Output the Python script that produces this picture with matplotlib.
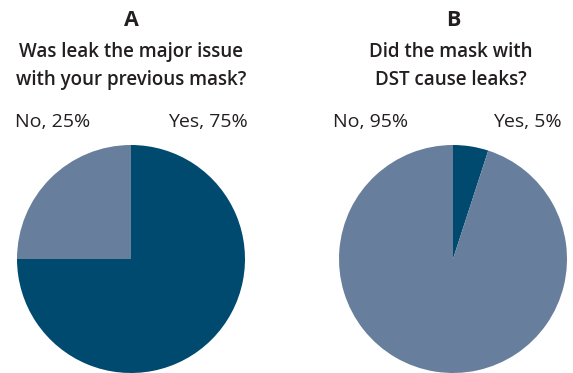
import matplotlib
matplotlib.use("Agg")
import matplotlib.pyplot as plt

# Data
panel_letters = ["A", "B"]
titles = ["Was leak the major issue\nwith your previous mask?",
          "Did the mask with\nDST cause leaks?"]
categories = ["Yes", "No"]
values_a = [75, 25]
values_b = [5, 95]

dark = "#004A70"
light = "#687E9D"
txt = "#231F20"

W, H = 573, 373
fig = plt.figure(figsize=(W / 100, H / 100), dpi=100)
plt.rcParams['font.family'] = ['Open Sans', 'DejaVu Sans']

def add_pie(cx, cy, r, vals):
    ax = fig.add_axes([(cx - r) / W, (H - cy - r) / H, 2 * r / W, 2 * r / H])
    ax.pie(vals, colors=[dark, light], startangle=90, counterclock=False,
           radius=1, wedgeprops=dict(linewidth=0))
    ax.set_xlim(-1, 1)
    ax.set_ylim(-1, 1)
    ax.set_aspect('auto')
    ax.axis('off')
    return ax

add_pie(131, 259, 114, values_a)
add_pie(453, 259, 114, values_b)

def ftext(x, y, s, **kw):
    fig.text(x / W, 1 - y / H, s, color=txt, **kw)

# Panel letters
ftext(131, 20, panel_letters[0], ha='center', va='center', fontsize=15.5, fontweight='bold')
ftext(453, 20, panel_letters[1], ha='center', va='center', fontsize=15.5, fontweight='bold')
# Titles
ftext(131, 66, titles[0], ha='center', va='center', fontsize=13.5, fontweight='semibold', linespacing=1.55)
ftext(451, 66, titles[1], ha='center', va='center', fontsize=13.5, fontweight='semibold', linespacing=1.55)
# Slice labels
ftext(15, 122, f"{categories[1]}, {values_a[1]}%", ha='left', va='center', fontsize=14)
ftext(248, 122, f"{categories[0]}, {values_a[0]}%", ha='right', va='center', fontsize=14)
ftext(333, 122, f"{categories[1]}, {values_b[1]}%", ha='left', va='center', fontsize=14)
ftext(562, 122, f"{categories[0]}, {values_b[0]}%", ha='right', va='center', fontsize=14)

fig.savefig("out.png", dpi=100, facecolor="white")
